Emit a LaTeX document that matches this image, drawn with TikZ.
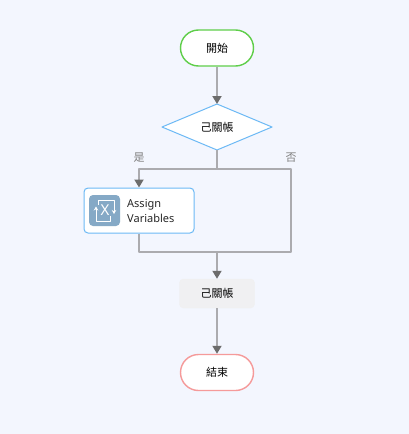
\documentclass[tikz,border=0pt]{standalone}
\usepackage{fontspec}
\setmainfont{Noto Sans}
\newfontfamily\cjk{Noto Sans CJK TC}
\usetikzlibrary{arrows.meta}
\definecolor{bgcol}{HTML}{F3F6FE}
\definecolor{linecol}{HTML}{ABABAF}
\definecolor{tipcol}{HTML}{6C6C6C}
\definecolor{startcol}{HTML}{5FCE4A}
\definecolor{endcol}{HTML}{F59A9A}
\definecolor{bluecol}{HTML}{6CB9F5}
\definecolor{iconcol}{HTML}{85A9C6}
\definecolor{proccol}{HTML}{F0F0F2}
\newcommand{\cjksize}{\fontsize{11}{13}\selectfont}
\tikzset{
	pill/.style={draw, line width=1.4pt, fill=white, rounded corners=18pt, minimum width=73pt, minimum height=36pt, inner sep=0pt, font=\cjk\cjksize},
	flow/.style={draw=linecol, line width=1.8pt, -{Triangle[length=8pt,width=9pt,color=tipcol]}},
	bus/.style={draw=linecol, line width=1.8pt, line join=round},
	branch/.style={text=gray, font=\cjk\cjksize, inner sep=0pt},
	iconline/.style={white, line width=.8pt},
}
\begin{document}
\begin{tikzpicture}[x=1pt, y=-1pt, line join=round]
	\fill[bgcol] (0,0) rectangle (409,434);
	\useasboundingbox (0,0) rectangle (409,434);
	% nodes
	\node[pill, draw=startcol] (start) at (217,48) {開始};
	\draw[bluecol, line width=1pt, fill=white] (162,127) -- (217,104) -- (272,127) -- (217,150) -- cycle;
	\coordinate (decTop) at (217,104);
	\coordinate (decBot) at (217,150);
	\node[font=\cjk\cjksize, inner sep=0pt] (dec) at (217,127) {己關帳};
	\node[draw=bluecol, line width=1pt, fill=white, rounded corners=4pt, minimum width=110pt, minimum height=45pt, inner sep=0pt] (assign) at (139,210.5) {};
	\node[fill=iconcol, rounded corners=4pt, minimum size=31pt, inner sep=0pt] (icon) at (104.5,210.5) {};
	\node[text=white, font=\fontsize{15}{15}\selectfont, inner sep=0pt] (iconX) at (105,210.5) {X};
	\draw[iconline, -{Stealth[length=4pt,width=4.5pt]}] (110,216) -- (110,221) -- (96,221) -- (96,206.5);
	\draw[iconline, -{Stealth[length=4pt,width=4.5pt]}] (98,205) -- (98,200) -- (114,200) -- (114,214);
	\node[anchor=west, align=left, inner sep=0pt, font=\fontsize{11}{15}\selectfont, text=black!85] (label) at (127,210.5) {Assign\\Variables};
	\node[draw=black!6, fill=proccol, rounded corners=4pt, minimum width=75pt, minimum height=29pt, inner sep=0pt, font=\cjk\cjksize] (proc) at (217,293.5) {己關帳};
	\node[pill, draw=endcol] (end) at (217,372.5) {結束};
	% branches
	\node[branch] (yes) at (139,158) {是};
	\node[branch] (no) at (291,158) {否};
	\coordinate (busTop) at (217,169);
	\coordinate (busLeft) at (139,169);
	\coordinate (busRight) at (291,169);
	\coordinate (busBot) at (217,252);
	\coordinate (retLeft) at (139,252);
	\coordinate (retRight) at (291,252);
	% connectors
	\draw[flow] (start) -- (decTop);
	\draw[bus] (decBot) -- (busTop);
	\draw[flow] (busTop) -- (busLeft) -- (assign.north);
	\draw[bus] (busTop) -- (busRight) -- (retRight) -- (busBot);
	\draw[bus] (assign.south) -- (retLeft) -- (busBot);
	\draw[flow] (busBot) -- (proc);
	\draw[flow] (proc) -- (end);
\end{tikzpicture}
\end{document}
